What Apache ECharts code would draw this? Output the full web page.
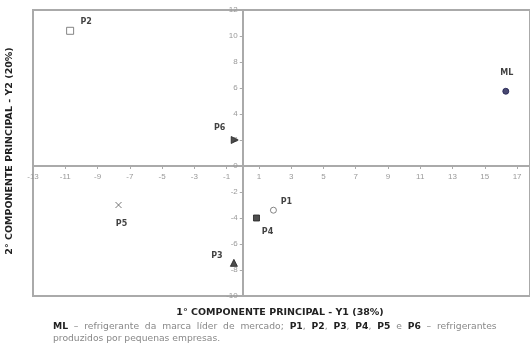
<!DOCTYPE html>
<html>
<head>
<meta charset="utf-8">
<script src="https://cdn.jsdelivr.net/npm/echarts@6/dist/echarts.min.js"></script>
<style>
  html, body {margin: 0; padding: 0; background: #fff;}
  #chart {width: 530px; height: 353px;}
</style>
</head>
<body>
<div id="chart"></div>
<script>
// pontos do grafico de componentes principais
const names = ['ML', 'P1', 'P2', 'P3', 'P4', 'P5', 'P6'];
const y1 = [16.3, 1.9, -10.7, -0.55, 0.85, -7.7, -0.5];
const y2 = [5.75, -3.4, 10.4, -7.45, -4.0, -3.0, 2.0];

const xTicks = {min: -13, max: 17.8, step: 2};
const yTicks = {min: -10, max: 12, step: 2};

// aparencia de cada ponto (simbolo e posicao do rotulo)
const look = {
  ML: {symbol: 'circle', size: 6, fill: '#1c1c4e', stroke: '#1c1c4e', off: [1, -18]},
  P1: {symbol: 'circle', size: 6, fill: '#fff', stroke: '#666', off: [13, -8]},
  P2: {symbol: 'rect', size: 7, fill: '#fff', stroke: '#666', off: [16, -9]},
  P3: {symbol: 'triangle', size: 7, fill: '#222', stroke: '#222', off: [-17, -7]},
  P4: {symbol: 'rect', size: 6, fill: '#222', stroke: '#222', off: [11, 14]},
  P5: {symbol: 'path://M0,0L10,10M10,0L0,10', size: 6, fill: 'transparent', stroke: '#555', off: [3, 19]},
  P6: {symbol: 'triangle', size: 7, fill: '#222', stroke: '#222', off: [-15, -12], rotate: -90}
};

const grid = {left: 33, top: 10, right: 0, bottom: 57};
const W = 530, H = 353;
const gw = W - grid.left - grid.right;
const gh = H - grid.top - grid.bottom;
// os eixos cruzam no zero: desloca cada eixo para dentro da grade
const xAxisShift = -gh * (0 - yTicks.min) / (yTicks.max - yTicks.min);
const yAxisShift = -gw * (0 - xTicks.min) / (xTicks.max - xTicks.min);

const chart = echarts.init(document.getElementById('chart'));

const series = names.map((n, i) => {
  const s = look[n];
  return {
    name: n,
    type: 'scatter',
    data: [[y1[i], y2[i]]],
    symbol: s.symbol,
    symbolSize: s.size,
    symbolRotate: s.rotate || 0,
    itemStyle: {color: s.fill, borderColor: s.stroke, borderWidth: 1},
    label: {
      show: true,
      formatter: n,
      position: 'inside',
      offset: s.off,
      color: '#111',
      fontSize: 8,
      fontWeight: 'bold',
      fontFamily: 'DejaVu Sans'
    },
    emphasis: {disabled: true},
    z: 5
  };
});

chart.setOption({
  animation: false,
  grid: Object.assign({
    show: true,
    borderColor: '#aaa',
    borderWidth: 2
  }, grid),
  xAxis: {
    type: 'value',
    min: xTicks.min,
    max: xTicks.max,
    interval: xTicks.step,
    offset: xAxisShift,
    splitLine: {show: false},
    axisLine: {onZero: false, lineStyle: {color: '#aaa', width: 2}},
    axisTick: {length: 3, lineStyle: {color: '#aaa'}},
    axisLabel: {
      showMaxLabel: false,
      color: '#999',
      fontSize: 8,
      margin: 7,
      fontFamily: 'Liberation Sans'
    }
  },
  yAxis: {
    type: 'value',
    min: yTicks.min,
    max: yTicks.max,
    interval: yTicks.step,
    offset: yAxisShift,
    splitLine: {show: false},
    axisLine: {onZero: false, lineStyle: {color: '#aaa', width: 2}},
    axisTick: {length: 3, lineStyle: {color: '#aaa'}},
    axisLabel: {
      color: '#999',
      fontSize: 8,
      margin: 5,
      fontFamily: 'Liberation Sans'
    }
  },
  graphic: [
    {
      type: 'text',
      x: 280,
      y: 313,
      style: {
        text: '1° COMPONENTE PRINCIPAL - Y1 (38%)',
        fill: '#222',
        font: 'bold 9.5px "DejaVu Sans"',
        align: 'center',
        verticalAlign: 'middle'
      }
    },
    {
      type: 'text',
      x: 10,
      y: 151,
      rotation: Math.PI / 2,
      style: {
        text: '2° COMPONENTE PRINCIPAL - Y2 (20%)',
        fill: '#222',
        font: 'bold 9.5px "DejaVu Sans"',
        align: 'center',
        verticalAlign: 'middle'
      }
    },
    {
      type: 'text',
      x: 53,
      y: 321,
      style: {
        text: '{b|ML}  –  refrigerante  da  marca  líder  de  mercado;  {b|P1},  {b|P2},  {b|P3},  {b|P4},  {b|P5}  e  {b|P6}  –  refrigerantes\nproduzidos por pequenas empresas.',
        fill: '#888',
        font: '9.2px "DejaVu Sans"',
        lineHeight: 12,
        rich: {
          b: {fill: '#222', font: 'bold 9.2px "DejaVu Sans"'}
        }
      }
    }
  ],
  series: series
});
</script>
</body>
</html>
